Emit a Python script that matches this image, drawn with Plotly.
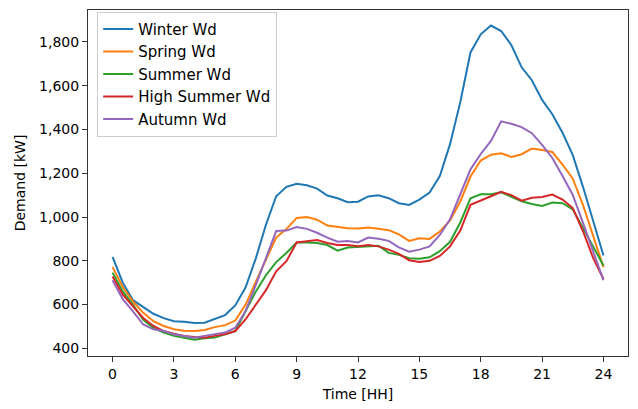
import plotly.graph_objects as go

hours = [i * 0.5 for i in range(49)]

winter_wd = [818, 700, 620, 588, 558, 538, 524, 521, 516, 517, 533, 552, 596, 678, 810, 965,
             1095, 1138, 1152, 1145, 1130, 1098, 1086, 1068, 1070, 1094, 1099, 1086, 1063, 1055,
             1080, 1112, 1187, 1333, 1525, 1752, 1835, 1875, 1850, 1785, 1684, 1625, 1535, 1470,
             1385, 1283, 1138, 980, 824]
spring_wd = [771, 680, 614, 562, 524, 502, 487, 480, 479, 484, 497, 506, 527, 599, 704, 809,
             906, 945, 996, 1000, 988, 961, 955, 949, 948, 952, 946, 940, 921, 891,
             903, 900, 934, 985, 1071, 1185, 1258, 1285, 1291, 1275, 1287, 1313, 1306, 1297,
             1240, 1175, 1055, 910, 771]
summer_wd = [746, 660, 599, 530, 494, 472, 457, 449, 439, 446, 449, 464, 479, 569, 659, 734,
             794, 836, 884, 884, 881, 872, 846, 861, 864, 869, 869, 836, 827, 812,
             809, 816, 844, 887, 975, 1086, 1104, 1104, 1113, 1092, 1072, 1060, 1051, 1066,
             1063, 1035, 950, 858, 779]
high_summer_wd = [728, 645, 592, 539, 502, 479, 467, 457, 452, 449, 457, 464, 479, 532, 599, 666,
                  752, 798, 884, 890, 895, 881, 872, 872, 866, 872, 866, 851, 832, 802,
                  795, 800, 822, 866, 938, 1056, 1077, 1095, 1115, 1100, 1075, 1088, 1092, 1103,
                  1080, 1041, 935, 812, 717]
autumn_wd = [711, 625, 569, 509, 487, 479, 464, 457, 449, 457, 464, 472, 494, 569, 689, 809,
             936, 938, 954, 946, 928, 906, 887, 890, 884, 906, 901, 891, 861, 842,
             851, 866, 918, 990, 1100, 1218, 1288, 1348, 1437, 1426, 1411, 1383, 1330, 1270,
             1187, 1101, 973, 843, 711]

series_names = ["Winter Wd", "Spring Wd", "Summer Wd", "High Summer Wd", "Autumn Wd"]
series_values = [winter_wd, spring_wd, summer_wd, high_summer_wd, autumn_wd]
colors = ["#1f77b4", "#ff7f0e", "#2ca02c", "#d62728", "#9467bd"]

x_ticks = [0, 3, 6, 9, 12, 15, 18, 21, 24]
y_ticks = [400, 600, 800, 1000, 1200, 1400, 1600, 1800]

fig = go.Figure()
for name, vals, c in zip(series_names, series_values, colors):
    fig.add_trace(go.Scatter(x=hours, y=vals, mode="lines", name=name,
                             line=dict(color=c, width=2)))

font_family = "DejaVu Sans"
axis_common = dict(showline=True, linecolor="#333333", linewidth=1, mirror=True,
                   ticks="outside", ticklen=5, tickwidth=1, tickcolor="#333333",
                   showgrid=False, zeroline=False,
                   tickfont=dict(family=font_family, size=14, color="black"))

fig.update_layout(
    width=638, height=409,
    margin=dict(l=88, r=9, t=10, b=47),
    paper_bgcolor="white", plot_bgcolor="white",
    font=dict(family=font_family, size=14, color="black"),
    xaxis=dict(range=[-1.2, 25.2], tickvals=x_ticks,
               title=dict(text="Time [HH]", font=dict(family=font_family, size=14), standoff=8),
               **axis_common),
    yaxis=dict(range=[365, 1946], tickvals=y_ticks, tickformat=",",
               title=dict(text="Demand [kW]", font=dict(family=font_family, size=14), standoff=10),
               **axis_common),
    legend=dict(x=0.017, y=0.995, xanchor="left", yanchor="top",
                bgcolor="rgba(255,255,255,0.8)", bordercolor="#cccccc", borderwidth=1,
                font=dict(family=font_family, size=15, color="black"),
                itemwidth=30, tracegroupgap=0),
)

fig.write_html("out.html")
